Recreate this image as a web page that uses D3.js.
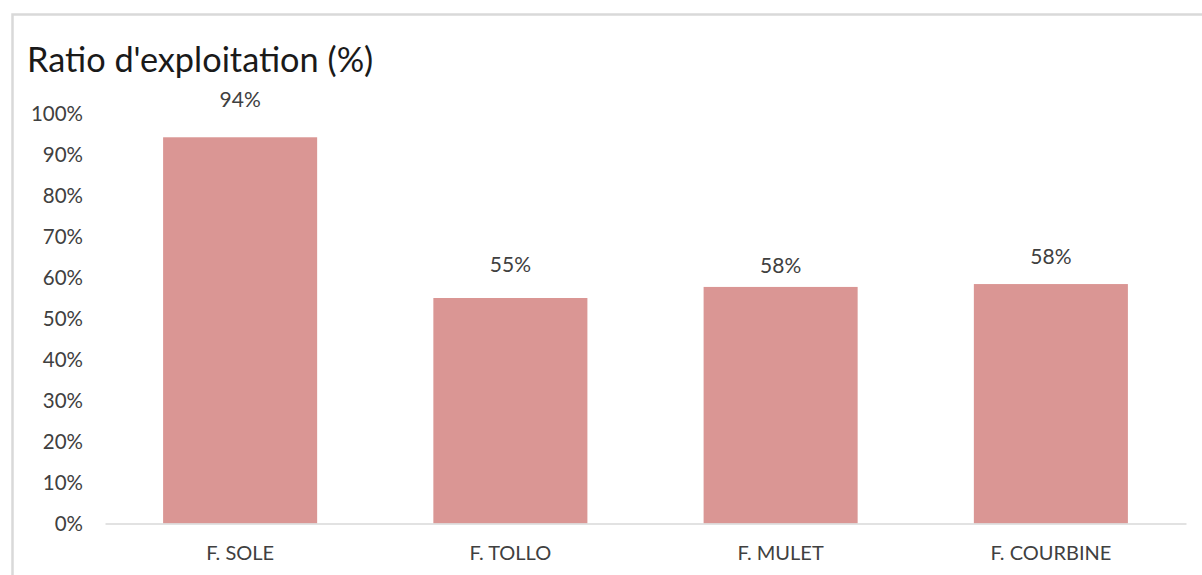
<!DOCTYPE html>
<html>
<head>
<meta charset="utf-8">
<script src="https://cdn.jsdelivr.net/npm/d3@7"></script>
<style>
  html, body { margin: 0; padding: 0; background: #ffffff; }
  svg { display: block; font-family: Lato, "Open Sans", sans-serif; }
</style>
</head>
<body>
<svg id="chart" width="1202" height="575"></svg>
<script>
// Exploitation ratio by fishery
const categories = ["F. SOLE", "F. TOLLO", "F. MULET", "F. COURBINE"];
const ratios = [0.942, 0.550, 0.577, 0.584];
const tickValues = [0, 0.1, 0.2, 0.3, 0.4, 0.5, 0.6, 0.7, 0.8, 0.9, 1.0];
const chartTitle = "Ratio d'exploitation (%)";

// Vertical gap between each bar top and its value label (px)
const labelLift = [30, 26, 14, 20];

const W = 1202, H = 575;
const plot = { left: 105, right: 1186, top: 113.5, bottom: 523.5 };
const barColor = "#DA9694";
const textColor = "#404040";
const lineColor = "#D9D9D9";

const svg = d3.select("#chart");

// Chart frame
svg.append("rect")
  .attr("x", 12.5).attr("y", 14.5)
  .attr("width", W + 20).attr("height", H + 20)
  .attr("fill", "#ffffff")
  .attr("stroke", lineColor)
  .attr("stroke-width", 2.5);

// Title
svg.append("text")
  .attr("x", 27).attr("y", 72)
  .attr("fill", "#1a1a1a")
  .attr("font-size", 34.3)
  .text(chartTitle);

const x = d3.scaleBand()
  .domain(categories)
  .range([plot.left, plot.right])
  .paddingInner(0.43)
  .paddingOuter(0.215);

const y = d3.scaleLinear()
  .domain([0, 1])
  .range([plot.bottom, plot.top]);

const pct = d3.format(".0%");

// Y axis: labels only
const yAxis = svg.append("g")
  .attr("transform", `translate(${plot.left - 22},0)`)
  .call(d3.axisLeft(y).tickValues(tickValues).tickFormat(pct).tickSize(0).tickPadding(0));
yAxis.select(".domain").remove();
yAxis.selectAll("text")
  .attr("fill", textColor)
  .attr("font-size", 20.5)
  .attr("font-family", "Lato, sans-serif")
  .attr("dy", "0.35em");

// Bars
svg.append("g")
  .selectAll("rect")
  .data(ratios)
  .join("rect")
  .attr("x", (d, i) => x(categories[i]))
  .attr("y", d => y(d))
  .attr("width", x.bandwidth())
  .attr("height", d => y(0) - y(d))
  .attr("fill", barColor);

// X axis line and category labels
const xAxis = svg.append("g")
  .attr("transform", `translate(0,${plot.bottom})`)
  .call(d3.axisBottom(x).tickSize(0).tickPadding(22));
xAxis.select(".domain")
  .attr("stroke", lineColor)
  .attr("stroke-width", 1.5);
xAxis.selectAll("text")
  .attr("fill", textColor)
  .attr("font-size", 20)
  .attr("font-family", "Lato, sans-serif");

// Value labels
svg.append("g")
  .selectAll("text")
  .data(ratios)
  .join("text")
  .attr("x", (d, i) => x(categories[i]) + x.bandwidth() / 2)
  .attr("y", (d, i) => y(d) - labelLift[i])
  .attr("text-anchor", "middle")
  .attr("fill", textColor)
  .attr("font-size", 21)
  .text(d => pct(d));
</script>
</body>
</html>
